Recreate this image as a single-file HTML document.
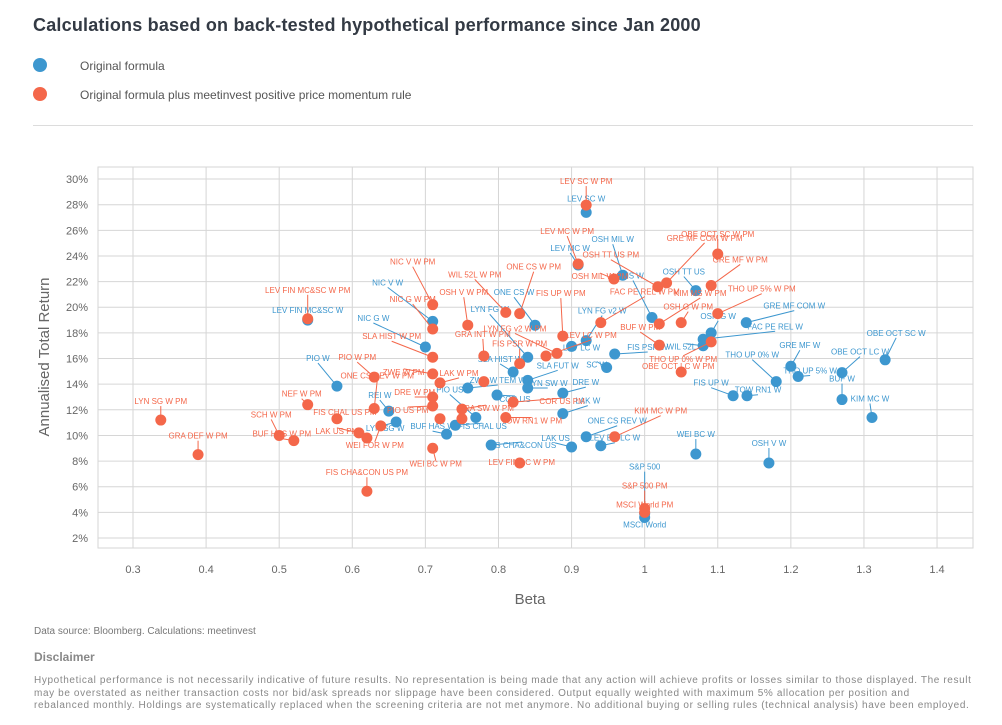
<!DOCTYPE html>
<html><head><meta charset="utf-8">
<style>
html,body{margin:0;padding:0;background:#fff;}
body{width:1002px;height:725px;position:relative;overflow:hidden;font-family:"Liberation Sans",sans-serif;}
.abs{position:absolute;}
#title{left:33px;top:15px;font-size:18px;font-weight:bold;color:#333a44;letter-spacing:0.2px;}
.leg{left:80px;font-size:12px;color:#555;}
.dot{width:14px;height:14px;border-radius:50%;left:33px;}
#sep{left:33px;top:125px;width:940px;height:1px;background:#dcdcdc;}
#src{left:34px;top:626px;font-size:10px;color:#777;}
#disc{left:34px;top:650px;font-size:12px;font-weight:bold;color:#888;}
#disctext{left:34px;top:675px;font-size:10px;line-height:12.6px;color:#888;white-space:nowrap;letter-spacing:0.62px;}
svg{position:absolute;left:0;top:0;}
</style></head>
<body>
<div id="title" class="abs">Calculations based on back-tested hypothetical performance since Jan 2000</div>
<div class="abs dot" style="top:58px;background:#3d97cf"></div>
<div class="abs leg" style="top:59px">Original formula</div>
<div class="abs dot" style="top:87px;background:#f4674a"></div>
<div class="abs leg" style="top:88px">Original formula plus meetinvest positive price momentum rule</div>
<div id="sep" class="abs"></div>
<svg id="chart" width="1002" height="725"></svg>
<div id="src" class="abs">Data source: Bloomberg. Calculations: meetinvest</div>
<div id="disc" class="abs">Disclaimer</div>
<div id="disctext" class="abs">Hypothetical performance is not necessarily indicative of future results. No representation is being made that any action will achieve profits or losses similar to those displayed. The result<br>may be overstated as neither transaction costs nor bid/ask spreads nor slippage have been considered. Output equally weighted with maximum 5% allocation per position and<br>rebalanced monthly. Holdings are systematically replaced when the screening criteria are not met anymore. No additional buying or selling rules (technical analysis) have been employed.</div>
<script>
const xTicks=[0.3,0.4,0.5,0.6,0.7,0.8,0.9,1.0,1.1,1.2,1.3,1.4];
const xTickLabels=["0.3","0.4","0.5","0.6","0.7","0.8","0.9","1","1.1","1.2","1.3","1.4"];
const yTicks=[2,4,6,8,10,12,14,16,18,20,22,24,26,28,30];
const yTickLabels=["2%","4%","6%","8%","10%","12%","14%","16%","18%","20%","22%","24%","26%","28%","30%"];

const blueNames=["LEV SC W","LEV MC W","OSH MIL W","MS W","OSH TT US","GRE MF COM W","FAC PE REL W","WIL 52L W","OSH G W","OBE OCT SC W","OBE OCT LC W","GRE MF W","THO UP 5% W","THO UP 0% W","BUF W","KIM MC W","FIS UP W","TOW RN1 W","WEI BC W","OSH V W","S&P 500","MSCI World","NIC V W","NIC G W","LEV FIN MC&SC W","PIO W","REI W","LYN SG W","SLA HIST W","LYN FG W","FIS PSR W","ONE CS W","LEV LC W","LYN FG v2 W","SC W","SLA FUT W","LYN SW W","ZWE W TEM W","COR US","DRE W","LAK W","PIO US","FIS CHAL US","BUF HAS W","FIS CHA&CON US","LAK US","ONE CS REV W","LEV EN LC W"];
const blueBeta=[0.920,0.909,0.970,1.010,1.070,1.139,1.080,1.080,1.091,1.329,1.270,1.200,1.210,1.180,1.270,1.311,1.121,1.140,1.070,1.170,1.000,1.000,0.710,0.700,0.539,0.579,0.650,0.660,0.820,0.840,0.959,0.850,0.900,0.920,0.948,0.840,0.840,0.758,0.798,0.888,0.888,0.769,0.741,0.729,0.790,0.900,0.920,0.940];
const blueReturn=[27.4,23.3,22.5,19.2,21.3,18.8,17.5,17.0,18.0,15.9,14.9,15.4,14.6,14.2,12.8,11.4,13.1,13.1,8.55,7.85,3.9,3.6,18.9,16.9,19.0,13.85,11.9,11.05,14.95,16.1,16.35,18.6,16.95,17.4,15.3,14.3,13.7,13.7,13.15,13.3,11.7,11.4,10.8,10.1,9.25,9.1,9.9,9.2];
const blueLabelOffset=[[0,-11],[-8,-14],[-10,-33],[-19,-39],[-12,-16],[48,-14],[72,-10],[-17,4],[7,-14],[11,-24],[18,-18],[9,-18],[12,-3],[-24,-24],[0,-18],[-2,-16],[-22,-10],[11,-3],[0,-17],[0,-17],[0,-44],[0,10],[-45,-36],[-52,-26],[0,-7],[-19,-25],[-9,-13],[-11,9],[-13,-10],[-38,-45],[33,-4],[-21,-30],[10,4],[16,-27],[-10,0],[30,-12],[20,-2],[30,-5],[18,7],[23,-8],[25,-10],[-26,-25],[27,4],[-14,-5],[31,3],[-16,-6],[31,-13],[14,-5]];

const orangeNames=["LEV SC W PM","LEV MC W PM","OSH MIL W PM","OSH TT US PM","GRE MF COM W PM","OBE OCT SC W PM","GRE MF W PM","THO UP 5% W PM","FAC PE REL W PM","KIM MS W PM","OSH G W PM","BUF W PM","FIS UP W PM","LYN FG v2 W PM","FIS PSR W PM","THO UP 0% W PM","OBE OCT LC W PM","KIM MC W PM","LEV FIN LC W PM","S&P 500 PM","MSCI World PM","FIS CHA&CON US PM","LYN SG W PM","GRA DEF W PM","SCH W PM","BUF HAS W PM","NEF W PM","FIS CHAL US PM","LAK US PM","","WEI FOR W PM","PIO W PM","ONE CS REV W PM","LEV FIN MC&SC W PM","NIC V W PM","NIC G W PM","SLA HIST W PM","OSH V W PM","GRA INT W PM","WIL 52L W PM","ONE CS W PM","ZWE W PM","LAK W PM","","DRE W PM","PIO US PM","","GRA SW W PM","","TOW RN1 W PM","COR US PM","WEI BC W PM","LEV LC W PM"];
const orangeBeta=[0.920,0.909,0.958,1.018,1.030,1.100,1.091,1.100,0.940,1.020,1.050,1.020,0.888,0.880,0.829,1.091,1.050,0.959,0.829,1.000,1.000,0.620,0.338,0.389,0.500,0.520,0.539,0.579,0.609,0.620,0.639,0.630,0.630,0.539,0.710,0.710,0.710,0.758,0.780,0.810,0.829,0.710,0.720,0.780,0.710,0.710,0.720,0.750,0.750,0.810,0.820,0.710,0.865];
const orangeReturn=[27.97,23.37,22.2,21.6,21.9,24.15,21.7,19.5,18.8,18.7,18.8,17.05,17.75,16.4,15.6,17.3,14.95,9.9,7.85,4.3,4.0,5.65,11.2,8.5,10.0,9.6,12.4,11.3,10.2,9.8,10.75,14.55,12.1,19.1,20.2,18.3,16.1,18.6,16.2,19.6,19.5,14.8,14.1,14.2,13.0,12.3,11.3,12.05,11.3,11.4,12.6,9.0,16.2];
const orangeLabelOffset=[[0,-21],[-11,-30],[-14,0],[-47,-29],[38,-42],[0,-17],[29,-23],[44,-22],[44,-28],[41,-28],[7,-13],[-19,-15],[-2,-40],[-42,-22],[0,-17],[-28,20],[-3,-3],[46,-23],[2,2],[0,-20],[0,-5],[0,-16],[0,-16],[0,-16],[-8,-18],[-12,-4],[-6,-8],[8,-4],[-22,1],[0,0],[-6,22],[-17,-17],[3,-30],[0,-26],[-20,-40],[-20,-27],[-41,-18],[-4,-30],[-1,-19],[-31,-35],[14,-44],[-29,1],[19,-7],[0,0],[-18,-2],[-25,7],[0,0],[24,2],[0,0],[26,6],[49,2],[3,18],[45,-18]];

const X0=98,X1=973,Y0=167,Y1=548;
const xMin=0.2521,xMax=1.4492,yMin=1.22,yMax=30.94;
const xs=v=>X0+(v-xMin)/(xMax-xMin)*(X1-X0);
const ys=v=>Y1-(v-yMin)/(yMax-yMin)*(Y1-Y0);
const NS="http://www.w3.org/2000/svg";
const svg=document.getElementById('chart');
function mk(tag,attrs,parent){const e=document.createElementNS(NS,tag);for(const k in attrs)e.setAttribute(k,attrs[k]);(parent||svg).appendChild(e);return e;}

const grid=mk('g',{});


mk('rect',{x:X0,y:Y0,width:X1-X0,height:Y1-Y0,fill:'none',stroke:'#d6d6d6','stroke-width':1},grid);
xTicks.forEach((t,i)=>{
  mk('line',{x1:xs(t),x2:xs(t),y1:Y0,y2:Y1,stroke:'#d6d6d6','stroke-width':1},grid);
  const tx=mk('text',{x:xs(t),y:573,'text-anchor':'middle','font-size':'11',fill:'#666','font-family':'Liberation Sans, sans-serif'});
  tx.textContent=xTickLabels[i];
  
  
});
yTicks.forEach((t,i)=>{
  mk('line',{x1:X0,x2:X1,y1:ys(t),y2:ys(t),stroke:'#d6d6d6','stroke-width':1},grid);
  const tx=mk('text',{x:88,y:ys(t)+4,'text-anchor':'end','font-size':'11',fill:'#666','font-family':'Liberation Sans, sans-serif'});
  tx.textContent=yTickLabels[i];
  
  
});
const xt=mk('text',{x:530,y:604,'text-anchor':'middle','font-size':'15',fill:'#666','font-family':'Liberation Sans, sans-serif'});
xt.textContent='Beta';


const yt=mk('text',{x:0,y:0,'text-anchor':'middle','font-size':'15',fill:'#666','font-family':'Liberation Sans, sans-serif',transform:'translate(49,357) rotate(-90)'});
yt.textContent='Annualised Total Return';



function series(names,betas,rets,offs,color,key){
  const g=mk('g',{});
  
  
  const lg=mk('g',{},g), pg=mk('g',{},g), tg=mk('g',{},g);
  names.forEach((n,i)=>{
    const cx=xs(betas[i]),cy=ys(rets[i]);
    const o=offs[i];
    if(n){
      const lx=cx+o[0],ly=cy+o[1];
      if(Math.hypot(o[0],o[1])>9){
        const ln=mk('line',{x1:cx,y1:cy,x2:lx,y2:ly+(o[1]<0?2:-6),stroke:color,'stroke-width':1},lg);
        
        
      }
      const t=mk('text',{x:lx,y:ly,'text-anchor':'middle','font-size':'8',fill:color,'font-family':'Liberation Sans, sans-serif'},tg);
      t.textContent=n;
      
      
    }
    const c=mk('circle',{cx:cx,cy:cy,r:5.5,fill:color},pg);
    
    
  });
}
series(blueNames,blueBeta,blueReturn,blueLabelOffset,'#3d97cf','original');
series(orangeNames,orangeBeta,orangeReturn,orangeLabelOffset,'#f4674a','momentum');
</script>
</body></html>
